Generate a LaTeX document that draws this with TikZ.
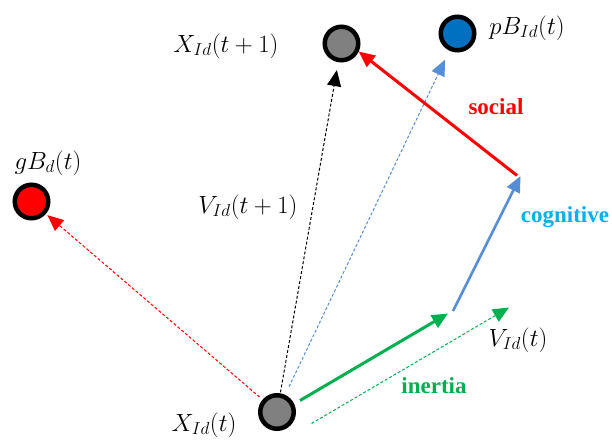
\documentclass[tikz,border=0pt]{standalone}
\usepackage{fontspec}
\setmainfont{Liberation Serif}
\usetikzlibrary{arrows.meta}
\definecolor{dotgray}{RGB}{128,128,128}
\definecolor{pbblue}{RGB}{0,112,192}
\definecolor{lineblue}{RGB}{85,142,213}
\definecolor{coggreen}{RGB}{0,176,80}
\definecolor{cogblue}{RGB}{0,176,240}
\begin{document}
\begin{tikzpicture}[x=1pt,y=-1pt,
  dot/.style={circle, draw=black, line width=4.5pt, minimum size=33.5pt, inner sep=0pt},
  lbl/.style={font=\fontsize{26}{30}\selectfont, inner sep=0pt},
  wordlbl/.style={font=\fontsize{23}{27}\selectfont\bfseries, inner sep=0pt},
  tip/.style={-{Triangle[length=16pt,width=14pt]}},
  fine/.style={tip, line width=1pt, dash pattern=on 3pt off 2pt},
  bold/.style={tip, line width=3pt}]
\useasboundingbox (0,0) rectangle (612,439);
% particles
\node[dot, fill=dotgray] (xt) at (277,412) {};
\node[dot, fill=dotgray] (xt1) at (341.5,43.5) {};
\node[dot, fill=pbblue] (pb) at (457.5,33.5) {};
\node[dot, fill=red] (gb) at (31.5,201.5) {};
% free ends
\coordinate (g1) at (300,400.5);
\coordinate (g2) at (448,313.5);
\coordinate (d1) at (311.5,423.5);
\coordinate (d2) at (509,307.5);
\coordinate (c1) at (453,311);
\coordinate (c2) at (520.5,176);
\coordinate (s1) at (517,175.5);
% dashed connectors
\draw[fine, red, shorten <=4pt, shorten >=2pt] (xt) -- (gb);
\draw[fine, black, shorten <=1pt, shorten >=8pt] (xt) -- (xt1);
\draw[fine, lineblue, shorten <=9pt, shorten >=10pt] (xt) -- (pb);
\draw[fine, coggreen] (d1) -- (d2);
% solid connectors
\draw[bold, coggreen] (g1) -- (g2);
\draw[bold, lineblue, line width=2.5pt] (c1) -- (c2);
\draw[bold, red] (s1) -- (xt1.-25);
% labels
\node[lbl] (lxt1) at (226,46) {$X_{Id}(t+1)$};
\node[lbl] (lpb) at (527,28) {$pB_{Id}(t)$};
\node[lbl] (lgb) at (48,163) {$gB_{d}(t)$};
\node[lbl] (lv1) at (248,207) {$V_{Id}(t+1)$};
\node[lbl] (lv) at (518,340) {$V_{Id}(t)$};
\node[lbl] (lxt) at (204,425) {$X_{Id}(t)$};
\node[wordlbl, text=red] (soc) at (496,107) {social};
\node[wordlbl, text=cogblue] (cog) at (565,217) {cognitive};
\node[wordlbl, text=coggreen] (ine) at (434,386) {inertia};
\end{tikzpicture}
\end{document}
